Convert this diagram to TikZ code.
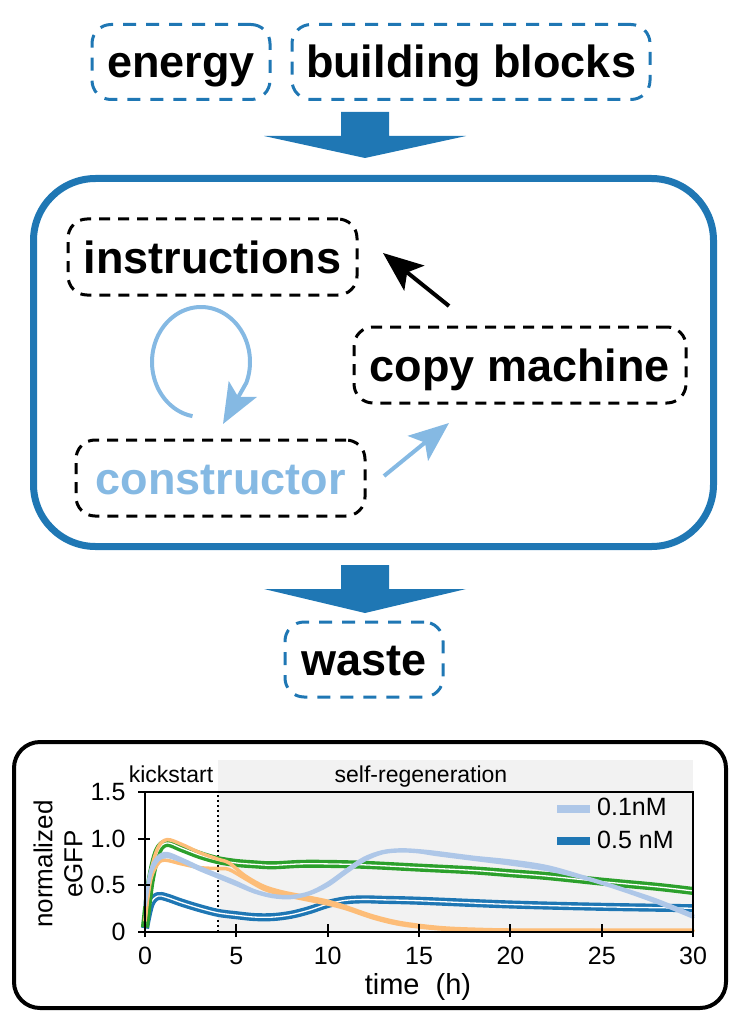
\documentclass[tikz,border=0pt]{standalone}
\usepackage{fontspec}
\setmainfont{Liberation Sans}
\usetikzlibrary{arrows.meta}
\definecolor{tabblue}{RGB}{31,119,180}
\definecolor{lightblu}{RGB}{133,185,227}
\definecolor{paleblue}{RGB}{174,199,232}
\definecolor{tgreen}{RGB}{44,160,44}
\definecolor{torange}{RGB}{253,189,120}
\definecolor{bandgray}{RGB}{242,242,242}
\begin{document}
\begin{tikzpicture}[x=1pt,y=-1pt,
  bigfont/.style={font=\fontsize{45}{54}\selectfont\bfseries, text height=40pt, text depth=8pt},
  bluebox/.style={bigfont, draw=tabblue, line width=3pt, dash pattern=on 13pt off 10pt, rounded corners=19pt, minimum height=75pt, inner sep=0pt},
  blackbox/.style={bigfont, draw=black, line width=3pt, dash pattern=on 11pt off 8pt, rounded corners=19pt, minimum height=76pt, inner sep=0pt},
  bigtip/.style={-{Stealth[length=40pt,width=32pt,inset=9pt]}},
  curve/.style={line width=3.5pt, line join=round, line cap=round},
  dcurve/.style={line width=3.4pt, double=white, double distance=1.3pt, line join=round},
  tick/.style={line width=2pt},
  small/.style={font=\fontsize{25}{30}\selectfont},
]
\useasboundingbox (0,0) rectangle (741,1024);

% top inputs
\node[bluebox, minimum width=178pt] (energy) at (181,62) {energy};
\node[bluebox, minimum width=358pt] (blocks) at (471,62) {building blocks};

% input arrow
\fill[tabblue] (341,112) -- (389,112) -- (389,136) -- (466,136) -- (365,158) -- (264,136) -- (341,136) -- cycle;

% cell
\node[draw=tabblue, line width=7pt, rounded corners=62pt, minimum width=680pt, minimum height=368pt, inner sep=0pt] (cell) at (373.5,362.5) {};

\node[blackbox, minimum width=289pt] (instr) at (212.5,257) {instructions};
\node[blackbox, minimum width=332pt] (copy) at (520,365) {copy machine};
\node[blackbox, minimum width=289pt, text=lightblu] (constr) at (220.5,478) {constructor};

% copy machine -> instructions
\coordinate (cmout) at (449,306);
\coordinate (inin) at (383,253);
\draw[line width=4pt, bigtip] (cmout) -- (inin);

% constructor -> copy machine
\coordinate (coout) at (384,476);
\coordinate (cmin) at (449,423);
\draw[lightblu, line width=4pt, bigtip] (coout) -- (cmin);

% loop instructions -> constructor
\draw[lightblu, line width=4pt, bigtip] plot[domain=260:-22, samples=50, smooth] ({201+49*cos(\x)},{362-55*sin(\x)}) -- (223,424);

% output arrow
\fill[tabblue] (341,565) -- (389,565) -- (389,589) -- (466,589) -- (365,613) -- (264,589) -- (341,589) -- cycle;
\node[bluebox, minimum width=158pt] (waste) at (364,659.5) {waste};

% bottom panel
\node[draw, line width=4pt, rounded corners=26pt, minimum width=712pt, minimum height=266pt, inner sep=0pt] (panel) at (370,875) {};

\begin{scope}[shift={(145,932)}, x=18.27pt, y=93.3pt]
  \fill[bandgray] (4,0) rectangle (30,1.84);
  \draw[line width=1.5pt, dash pattern=on 2pt off 3pt] (4,0) -- (4,1.5);
  % dark blue
  \draw[tabblue, dcurve] plot[smooth, tension=0.55] coordinates {(0,0.04) (0.3,0.3) (0.7,0.385) (1.2,0.37) (2,0.315) (3,0.255) (4,0.205) (5,0.18) (6,0.16) (7,0.16) (8,0.185) (9,0.235) (10,0.3) (11,0.34) (12,0.35) (13,0.345) (15,0.335) (20,0.295) (25,0.27) (30,0.255)};
  % green
  \draw[tgreen, dcurve] plot[smooth, tension=0.55] coordinates {(0,0.05) (0.3,0.54) (0.7,0.865) (1.2,0.955) (2,0.9) (3,0.825) (4,0.77) (5,0.74) (6,0.725) (7,0.715) (8.5,0.73) (10,0.73) (12,0.72) (15,0.69) (18,0.66) (20,0.63) (22,0.6) (25,0.54) (28,0.485) (30,0.44)};
  % orange
  \draw[torange, curve] plot[smooth, tension=0.55] coordinates {(0,0.12) (0.3,0.62) (0.7,0.9) (1.2,0.99) (2,0.94) (3,0.85) (4,0.78) (4.6,0.74) (5.5,0.6) (6.5,0.49) (7.5,0.43) (8.5,0.39) (10,0.33) (11,0.27) (12.5,0.17) (14,0.1) (16,0.05) (18,0.03) (21,0.02) (30,0.02)};
  \draw[torange, curve] plot[smooth, tension=0.55] coordinates {(0,0.12) (0.3,0.55) (0.7,0.73) (1.1,0.77) (2,0.73) (3,0.69) (4,0.68) (4.6,0.67) (5.5,0.57) (6.5,0.46) (7.5,0.4) (8.5,0.36) (10,0.3) (11,0.25) (12.5,0.15) (14,0.08) (16,0.035) (18,0.02) (21,0.015) (30,0.012)};
  % pale blue
  \draw[paleblue, curve] plot[smooth, tension=0.55] coordinates {(0,0.3) (0.3,0.65) (0.7,0.8) (1.2,0.84) (2,0.78) (3,0.69) (4,0.61) (5,0.53) (6,0.44) (7,0.39) (8,0.38) (9,0.42) (10,0.52) (11,0.66) (12,0.79) (13,0.86) (14,0.88) (15,0.87) (16,0.85) (18,0.8) (20,0.76) (22,0.7) (24,0.59) (26,0.47) (28,0.34) (30,0.18)};
  \draw[paleblue, curve] plot[smooth, tension=0.55] coordinates {(0,0.28) (0.3,0.62) (0.7,0.77) (1.2,0.81) (2,0.76) (3,0.67) (4,0.59) (5,0.51) (6,0.43) (7,0.38) (8,0.37) (9,0.41) (10,0.5) (11,0.64) (12,0.77) (13,0.85) (14,0.87) (15,0.86) (16,0.83) (18,0.78) (20,0.73) (22,0.67) (24,0.58) (26,0.46) (28,0.32) (30,0.16)};
  % axes
  \draw[line width=1.3pt] (0,1.5) -- (30,1.5) -- (30,0);
  \draw[line width=2pt] (0,1.5) -- (0,0) -- (30,0);
  \foreach \t in {0,5,10,15,20,25,30} {
    \draw[tick] (\t,0) ++(0pt,-5pt) -- ++(0pt,13pt);
    \node[small, yshift=-24pt] at (\t,0) {\t};
  }
  \foreach \v/\lab in {0/0,0.5/0.5,1/1.0,1.5/1.5} {
    \draw[tick] (0,\v) ++(-7pt,0pt) -- ++(12pt,0pt);
    \node[small, anchor=east, xshift=-16pt] at (0,\v) {\lab};
  }
\end{scope}

\node[font=\fontsize{23}{28}\selectfont, anchor=base] (kick) at (171,782) {kickstart};
\node[font=\fontsize{23}{28}\selectfont, anchor=base] (regen) at (421,782) {self-regeneration};
\node[font=\fontsize{29}{34}\selectfont, anchor=base] (xlab) at (418,994) {time\ \ (h)};
\node[font=\fontsize{26}{30}\selectfont, rotate=90, align=center] (ylab) at (58,864) {normalized\\eGFP};

% legend
\coordinate (l1a) at (557,809); \coordinate (l1b) at (590,809);
\coordinate (l2a) at (557,841); \coordinate (l2b) at (590,841);
\draw[paleblue, line width=8pt] (l1a) -- (l1b);
\draw[tabblue, line width=8pt] (l2a) -- (l2b);
\node[small, anchor=base west, inner sep=0pt] (leg1) at (597,815) {0.1nM};
\node[small, anchor=base west, inner sep=0pt] (leg2) at (597,848) {0.5 nM};
\end{tikzpicture}
\end{document}
